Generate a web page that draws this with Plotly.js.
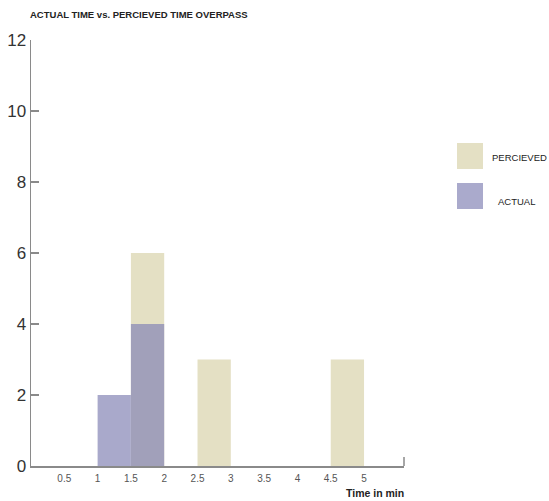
<!DOCTYPE html>
<html><head><meta charset="utf-8">
<script src="https://cdn.plot.ly/plotly-3.0.1.min.js"></script>
<style>html,body{margin:0;padding:0;background:#fff}#chart{width:549px;height:501px}</style>
</head><body><div id="chart"></div>
<script>
// Data
var perceivedBins = [1.5, 2.5, 4.5];
var perceivedCounts = [6, 3, 3];
var actualBins = [1, 1.5];
var actualCounts = [2, 4];
var xTicks = [0.5, 1, 1.5, 2, 2.5, 3, 3.5, 4, 4.5, 5];
var yTicks = [0, 2, 4, 6, 8, 10, 12];
var seriesNames = ['PERCIEVED', 'ACTUAL'];

var W = 549, H = 501;
var mL = 31, mR = 145, mT = 40, mB = 35;
var pw = W - mL - mR, ph = H - mT - mB;
function px(x){ return (x - mL) / pw; }
function py(y){ return (H - mB - y) / ph; }

var perceivedColor = 'rgb(228,224,196)';
var actualColor = 'rgb(134,134,182)';
var fam = 'Liberation Sans, Arial, sans-serif';

var traces = [
  {type:'bar', name:seriesNames[0], x:perceivedBins, y:perceivedCounts, width:0.5, offset:0,
   marker:{color:perceivedColor, line:{width:0}}, showlegend:false, hoverinfo:'x+y'},
  {type:'bar', name:seriesNames[1], x:actualBins, y:actualCounts, width:0.5, offset:0,
   marker:{color:actualColor, line:{width:0}}, opacity:0.7, showlegend:false, hoverinfo:'x+y'}
];

var axisColor = '#8a8a8a';
var layout = {
  width:W, height:H, barmode:'overlay',
  margin:{l:mL, r:mR, t:mT, b:mB, pad:0},
  paper_bgcolor:'#fff', plot_bgcolor:'#fff',
  showlegend:false,
  title:{text:'ACTUAL TIME vs. PERCIEVED TIME OVERPASS', x:30/W, xanchor:'left', y:1-15/H, yanchor:'middle',
    font:{family:fam, size:9.5, color:'#222', weight:'bold'}},
  xaxis:{range:[0,5.6], tickvals:xTicks, ticktext:xTicks.map(String), showgrid:false, zeroline:false,
    showline:true, linecolor:axisColor, linewidth:1.5, ticks:'', ticklabelstandoff:2,
    tickfont:{family:fam, size:10, color:'#555'}, fixedrange:true},
  yaxis:{range:[0,12], tickvals:yTicks, showgrid:false, zeroline:false, showline:true,
    linecolor:axisColor, linewidth:1.5, ticks:'inside', ticklen:8, tickcolor:axisColor, tickwidth:1.5,
    tickfont:{family:fam, size:17, color:'#333'}, fixedrange:true},
  shapes:[
    {type:'line', xref:'paper', yref:'paper', x0:1, x1:1, y0:0, y1:9/ph, line:{color:axisColor, width:1.5}},
    {type:'rect', xref:'paper', yref:'paper', x0:px(457), x1:px(483), y0:py(169), y1:py(143), line:{width:0}, fillcolor:perceivedColor},
    {type:'rect', xref:'paper', yref:'paper', x0:px(457), x1:px(483), y0:py(209), y1:py(183), line:{width:0}, fillcolor:'rgb(170,170,204)'}
  ],
  annotations:[
    {text:seriesNames[0], xref:'paper', yref:'paper', x:px(519), y:py(157), xanchor:'center', yanchor:'middle', showarrow:false,
     font:{family:fam, size:9.5, color:'#222'}},
    {text:seriesNames[1], xref:'paper', yref:'paper', x:px(516), y:py(201), xanchor:'center', yanchor:'middle', showarrow:false,
     font:{family:fam, size:9.5, color:'#222'}},
    {text:'Time in min', xref:'paper', yref:'paper', x:px(406), y:py(493), xanchor:'right', yanchor:'middle', showarrow:false,
     font:{family:fam, size:10.5, color:'#222', weight:'bold'}}
  ]
};
Plotly.newPlot('chart', traces, layout, {displayModeBar:false, staticPlot:true});
</script></body></html>
